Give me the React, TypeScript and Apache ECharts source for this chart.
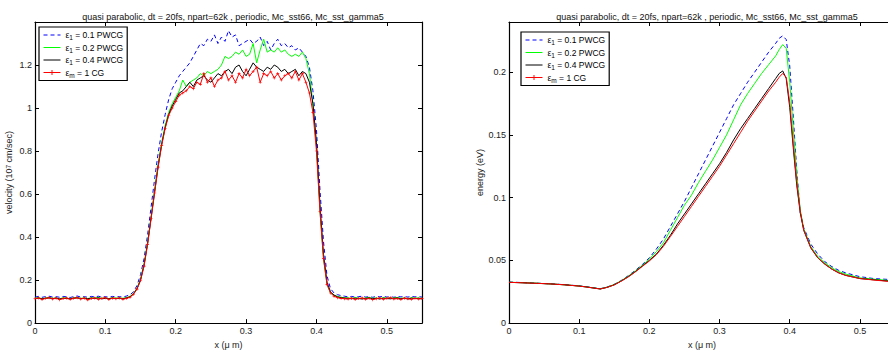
import React, { useEffect, useRef } from 'react';
import * as echarts from 'echarts';

const TITLE = 'quasi parabolic, dt = 20fs, npart=62k , periodic, Mc_sst66, Mc_sst_gamma5';
const X_NAME = 'x (\u03bc m)';
const seriesNames = ['ε1 = 0.1 PWCG', 'ε1 = 0.2 PWCG', 'ε1 = 0.4 PWCG', 'εm = 1 CG'];
const legendLabels = ['ε{sub|1} = 0.1 PWCG', 'ε{sub|1} = 0.2 PWCG', 'ε{sub|1} = 0.4 PWCG', 'ε{sub|m} = 1 CG'];
const colors = ['#0000ff', '#00ff00', '#000000', '#ff0000'];

// velocity plot (x in μm, velocity in 10^7 cm/sec)
const vX = [
  0, 0.005, 0.01, 0.015, 0.02, 0.025, 0.03, 0.035, 0.04, 0.045, 0.05, 0.055, 0.06, 0.065, 0.07, 0.075, 0.08, 0.085, 0.09, 0.095,
  0.1, 0.105, 0.11, 0.115, 0.12, 0.125, 0.13, 0.135, 0.14, 0.145, 0.15, 0.155, 0.16, 0.165, 0.17, 0.175, 0.18, 0.185, 0.19, 0.195,
  0.2, 0.205, 0.21, 0.215, 0.22, 0.225, 0.23, 0.235, 0.24, 0.245, 0.25, 0.255, 0.26, 0.265, 0.27, 0.275, 0.28, 0.285, 0.29, 0.295,
  0.3, 0.305, 0.31, 0.315, 0.32, 0.325, 0.33, 0.335, 0.34, 0.345, 0.35, 0.355, 0.36, 0.365, 0.37, 0.375, 0.38, 0.385, 0.39, 0.395,
  0.4, 0.405, 0.41, 0.415, 0.42, 0.425, 0.43, 0.435, 0.44, 0.445, 0.45, 0.455, 0.46, 0.465, 0.47, 0.475, 0.48, 0.485, 0.49, 0.495,
  0.5, 0.505, 0.51, 0.515, 0.52, 0.525, 0.53, 0.535, 0.54, 0.545, 0.55,
];
const vBlue = [
  0.121, 0.124, 0.120, 0.123, 0.125, 0.121, 0.123, 0.120, 0.124, 0.122, 0.119, 0.123, 0.126, 0.121, 0.123, 0.120, 0.124, 0.122, 0.125, 0.121,
  0.123, 0.120, 0.124, 0.122, 0.123, 0.121, 0.126,
  0.132, 0.145, 0.175, 0.225, 0.30, 0.41, 0.54, 0.67, 0.79, 0.89,
  0.97, 1.04, 1.09, 1.12, 1.15, 1.17, 1.19, 1.21, 1.24, 1.27,
  1.30, 1.29, 1.32, 1.31, 1.34, 1.30, 1.33, 1.31, 1.36, 1.33,
  1.34, 1.29, 1.30, 1.31, 1.32, 1.30, 1.31, 1.33, 1.29, 1.31,
  1.27, 1.30, 1.32, 1.29, 1.30, 1.28, 1.29, 1.27, 1.28, 1.26,
  1.24, 1.19, 1.08, 0.90, 0.62, 0.38, 0.22, 0.16, 0.14, 0.132,
  0.128, 0.125,
  0.122, 0.124, 0.121, 0.123, 0.125, 0.121, 0.123, 0.120, 0.124, 0.122, 0.125, 0.121, 0.123, 0.120, 0.124, 0.122, 0.123, 0.121, 0.124, 0.122,
  0.123, 0.121,
];
const vGreen = [
  0.116, 0.118, 0.114, 0.117, 0.119, 0.115, 0.117, 0.113, 0.118, 0.116, 0.114, 0.117, 0.119, 0.115, 0.117, 0.114, 0.118, 0.116, 0.119, 0.115,
  0.117, 0.114, 0.118, 0.116, 0.117, 0.115, 0.119,
  0.124, 0.138, 0.162, 0.205, 0.275, 0.375, 0.495, 0.62, 0.74, 0.84,
  0.92, 0.98, 1.02, 1.05, 1.08, 1.13, 1.10, 1.12, 1.13, 1.14,
  1.16, 1.15, 1.17, 1.16, 1.17, 1.18, 1.20, 1.24, 1.23, 1.24,
  1.26, 1.25, 1.27, 1.24, 1.25, 1.30, 1.21, 1.27, 1.32, 1.26,
  1.27, 1.26, 1.28, 1.26, 1.27, 1.25, 1.24, 1.25, 1.24, 1.26,
  1.23, 1.16, 1.02, 0.82, 0.52, 0.30, 0.18, 0.14, 0.13, 0.124,
  0.12, 0.118,
  0.117, 0.115, 0.118, 0.116, 0.114, 0.117, 0.119, 0.115, 0.117, 0.114, 0.118, 0.116, 0.115, 0.117, 0.119, 0.115, 0.117, 0.114, 0.118, 0.116,
  0.117, 0.115,
];
const vBlack = [
  0.114, 0.116, 0.113, 0.115, 0.117, 0.114, 0.116, 0.112, 0.115, 0.114, 0.113, 0.116, 0.117, 0.114, 0.115, 0.113, 0.116, 0.114, 0.117, 0.113,
  0.115, 0.113, 0.116, 0.114, 0.115, 0.113, 0.117,
  0.122, 0.136, 0.16, 0.20, 0.27, 0.37, 0.49, 0.61, 0.73, 0.83,
  0.91, 0.97, 1.01, 1.04, 1.07, 1.08, 1.10, 1.12, 1.10, 1.13,
  1.14, 1.15, 1.13, 1.12, 1.14, 1.16, 1.15, 1.17, 1.18, 1.16,
  1.19, 1.20, 1.17, 1.15, 1.18, 1.21, 1.19, 1.18, 1.17, 1.19,
  1.18, 1.20, 1.19, 1.17, 1.18, 1.16, 1.17, 1.18, 1.15, 1.17,
  1.16, 1.12, 1.02, 0.84, 0.55, 0.32, 0.19, 0.145, 0.13, 0.122,
  0.118, 0.116,
  0.115, 0.113, 0.116, 0.114, 0.112, 0.115, 0.117, 0.113, 0.115, 0.112, 0.116, 0.114, 0.113, 0.115, 0.117, 0.113, 0.115, 0.112, 0.116, 0.114,
  0.115, 0.113,
];
const vRed = [
  0.113, 0.117, 0.110, 0.115, 0.118, 0.112, 0.116, 0.109, 0.114, 0.117, 0.111, 0.115, 0.118, 0.112, 0.116, 0.108, 0.114, 0.117, 0.111, 0.115,
  0.118, 0.110, 0.116, 0.113, 0.117, 0.111, 0.115,
  0.12, 0.134, 0.158, 0.198, 0.265, 0.365, 0.485, 0.605, 0.725, 0.825,
  0.905, 0.965, 1.00, 1.03, 1.06, 1.07, 1.08, 1.10, 1.09, 1.12,
  1.11, 1.16, 1.12, 1.14, 1.10, 1.13, 1.14, 1.17, 1.13, 1.15,
  1.12, 1.16, 1.14, 1.18, 1.15, 1.17, 1.19, 1.12, 1.16, 1.15,
  1.17, 1.14, 1.16, 1.13, 1.15, 1.16, 1.14, 1.17, 1.13, 1.16,
  1.12, 1.07, 0.98, 0.80, 0.52, 0.30, 0.18, 0.14, 0.125, 0.118,
  0.115, 0.113,
  0.112, 0.116, 0.110, 0.114, 0.117, 0.111, 0.115, 0.109, 0.113, 0.117, 0.111, 0.115, 0.118, 0.112, 0.114, 0.110, 0.116, 0.113, 0.111, 0.115,
  0.112, 0.114,
];

// energy plot (x in μm, energy in eV)
const eX = [
  0, 0.02, 0.04, 0.06, 0.08, 0.1, 0.11, 0.12, 0.13,
  0.14, 0.15, 0.16, 0.17, 0.18, 0.19, 0.2, 0.21, 0.22, 0.23, 0.24, 0.25, 0.26, 0.27, 0.28, 0.29, 0.3, 0.31, 0.32, 0.33, 0.34, 0.35, 0.36, 0.37, 0.38,
  0.385, 0.39, 0.395, 0.4, 0.405, 0.41, 0.415, 0.42,
  0.43, 0.44, 0.45, 0.46, 0.47, 0.48,
  0.5, 0.52, 0.55,
];
const eBlue = [
  0.0327, 0.0323, 0.0318, 0.0313, 0.0306, 0.0297, 0.029, 0.0282, 0.0274,
  0.0288, 0.031, 0.034, 0.0378, 0.042, 0.0467, 0.052, 0.059, 0.067, 0.077, 0.087, 0.097, 0.108, 0.119, 0.13, 0.141, 0.152, 0.163, 0.174, 0.183, 0.192, 0.2, 0.208, 0.216, 0.223,
  0.227, 0.229, 0.226, 0.205, 0.165, 0.122, 0.088, 0.076,
  0.063, 0.055, 0.049, 0.045, 0.042, 0.04,
  0.037, 0.0355, 0.0345,
];
const eGreen = [
  0.0326, 0.0322, 0.0318, 0.0312, 0.0305, 0.0296, 0.0289, 0.0281, 0.0273,
  0.0287, 0.0308, 0.0338, 0.0374, 0.0415, 0.046, 0.051, 0.057, 0.064, 0.074, 0.084, 0.094, 0.102, 0.112, 0.121, 0.13, 0.14, 0.15, 0.162, 0.174, 0.183, 0.191, 0.199, 0.206, 0.213,
  0.218, 0.222, 0.219, 0.192, 0.155, 0.118, 0.09, 0.075,
  0.061, 0.053, 0.048, 0.044, 0.041, 0.039,
  0.036, 0.035, 0.0335,
];
const eBlack = [
  0.0325, 0.0321, 0.0317, 0.0312, 0.0305, 0.0295, 0.0288, 0.028, 0.0272,
  0.0285, 0.0305, 0.0335, 0.037, 0.041, 0.0455, 0.05, 0.055, 0.062, 0.07, 0.079, 0.087, 0.095, 0.103, 0.111, 0.119, 0.127, 0.136, 0.146, 0.155, 0.163, 0.171, 0.179, 0.187, 0.195,
  0.199, 0.201, 0.195, 0.172, 0.14, 0.11, 0.088, 0.074,
  0.06, 0.052, 0.047, 0.043, 0.04, 0.038,
  0.0355, 0.0345, 0.033,
];
const eRed = [
  0.0325, 0.0321, 0.0317, 0.0312, 0.0305, 0.0295, 0.0288, 0.028, 0.0272,
  0.0285, 0.0305, 0.0335, 0.0368, 0.0408, 0.0452, 0.0495, 0.0545, 0.0612, 0.069, 0.077, 0.085, 0.093, 0.101, 0.109, 0.117, 0.125, 0.134, 0.143, 0.152, 0.161, 0.169, 0.177, 0.185, 0.192,
  0.196, 0.199, 0.196, 0.176, 0.143, 0.112, 0.089, 0.074,
  0.06, 0.052, 0.047, 0.043, 0.04, 0.038,
  0.0355, 0.0343, 0.0328,
];

const FONT = '"Liberation Sans", Arial, Helvetica, sans-serif';
const PLUS = 'path://M4,0H6V4H10V6H6V10H4V6H0V4H4Z';

const tickFmt = (step: number, digits: number, maxShown: number) => (v: number) => {
  const k = v / step;
  if (v > maxShown + 1e-9) return '';
  return Math.abs(k - Math.round(k)) < 1e-6 ? String(+v.toFixed(digits)) : '';
};

const pairs = (xs: number[], ys: number[]) => xs.map((x, i) => [x, ys[i]]);

function axisBase(min: number, max: number, interval: number) {
  return {
    type: 'value' as const,
    min,
    max,
    interval,
    splitLine: { show: false },
    axisLine: { show: true, onZero: false, lineStyle: { color: '#000', width: 1.2 } },
    axisTick: { show: true, inside: true, length: 4, lineStyle: { color: '#000' } },
  };
}

export default function App() {
  const ref = useRef<HTMLDivElement>(null);
  useEffect(() => {
    if (!ref.current) return;
    const chart = echarts.init(ref.current, undefined, { renderer: 'svg' });
    const grids = [
      { left: 35, top: 22, width: 387, height: 305 },
      { left: 509, top: 22, width: 386, height: 305 },
    ];
    const labelStyle = { color: '#222', fontSize: 9, fontFamily: FONT, margin: 3 };
    const xMain = (gi: number) => ({
      ...axisBase(0, 0.55, 0.1),
      gridIndex: gi,
      position: 'bottom' as const,
      name: X_NAME,
      nameLocation: 'middle' as const,
      nameGap: 14,
      nameTextStyle: { color: '#222', fontSize: 9, fontFamily: FONT },
      axisLabel: { ...labelStyle, formatter: tickFmt(0.1, 1, 0.5) },
    });
    const xTop = (gi: number) => ({
      ...axisBase(0, 0.55, 0.1),
      gridIndex: gi,
      position: 'top' as const,
      axisLabel: { show: false },
    });
    const seriesFor = (xs: number[], ys: number[][], axis: number, markers: boolean) =>
      ys.map((d, i) => ({
        name: seriesNames[i],
        type: 'line' as const,
        xAxisIndex: axis,
        yAxisIndex: axis,
        data: pairs(xs, d),
        symbol: i === 3 ? PLUS : 'circle',
        symbolSize: 3,
        showSymbol: i === 3 && markers,
        itemStyle: { color: colors[i] },
        lineStyle: { color: colors[i], width: 1, type: i === 0 ? [4, 3] : 'solid' },
      }));
    const legendData = seriesNames.map((n, i) => ({
      name: n,
      itemStyle: { opacity: i === 3 ? 1 : 0 },
    }));
    const legendBase = {
      orient: 'vertical' as const,
      data: legendData,
      formatter: (name: string) => legendLabels[seriesNames.indexOf(name)],
      backgroundColor: '#fff',
      borderColor: '#000',
      borderWidth: 1.2,
      borderRadius: 0,
      padding: [2, 4, 2, 4],
      itemGap: 0.5,
      itemWidth: 17,
      itemHeight: 6,
      selectedMode: false,
      lineStyle: { width: 1 },
      textStyle: {
        color: '#000',
        fontSize: 8.5,
        fontFamily: FONT,
        lineHeight: 12,
        rich: {
          sub: { fontSize: 6.5, fontFamily: FONT, color: '#000', verticalAlign: 'bottom', lineHeight: 7, padding: [4, 0, 0, 0] },
        },
      },
    };
    chart.setOption({
      animation: false,
      textStyle: { fontFamily: FONT },
      title: [
        { text: TITLE, left: 228, top: 7, textAlign: 'center', textStyle: { fontSize: 9, fontWeight: 'normal', color: '#111', fontFamily: FONT } },
        { text: TITLE, left: 702, top: 7, textAlign: 'center', textStyle: { fontSize: 9, fontWeight: 'normal', color: '#111', fontFamily: FONT } },
      ],
      legend: [
        { ...legendBase, left: 39, top: 27 },
        { ...legendBase, left: 521, top: 32 },
      ],
      grid: grids,
      xAxis: [xMain(0), xTop(0), xMain(1), xTop(1)],
      yAxis: [
        {
          ...axisBase(0, 1.4, 0.2),
          gridIndex: 0,
          position: 'left',
          name: 'velocity (10{sup|7} cm/sec)',
          nameLocation: 'middle',
          nameGap: 16,
          nameTextStyle: {
            color: '#222', fontSize: 9, fontFamily: FONT,
            rich: { sup: { fontSize: 6.5, color: '#222', fontFamily: FONT, verticalAlign: 'top', lineHeight: 7, padding: [0, 0, 4, 0] } },
          },
          axisLabel: { ...labelStyle, formatter: tickFmt(0.2, 1, 1.2) },
        },
        { ...axisBase(0, 1.4, 0.2), gridIndex: 0, position: 'right', axisLabel: { show: false } },
        {
          ...axisBase(0, 0.24, 0.05),
          gridIndex: 1,
          position: 'left',
          name: 'energy (eV)',
          nameLocation: 'middle',
          nameGap: 20,
          nameTextStyle: { color: '#222', fontSize: 9, fontFamily: FONT },
          axisLabel: { ...labelStyle, formatter: tickFmt(0.05, 2, 0.2) },
        },
        { ...axisBase(0, 0.24, 0.05), gridIndex: 1, position: 'right', axisLabel: { show: false } },
      ],
      series: [
        ...seriesFor(vX, [vBlue, vGreen, vBlack, vRed], 0, true),
        ...seriesFor(eX, [eBlue, eGreen, eBlack, eRed], 2, false),
      ],
    });
    return () => chart.dispose();
  }, []);
  return (
    <div style={{ position: 'fixed', left: 0, top: 0, width: 888, height: 354, overflow: 'hidden', background: '#fff' }}>
      <div ref={ref} style={{ width: 900, height: 354 }} />
    </div>
  );
}
